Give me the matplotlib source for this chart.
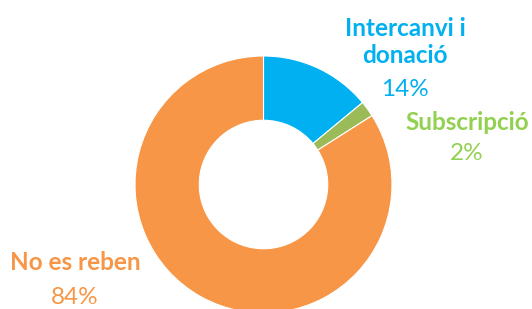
import matplotlib
matplotlib.use("Agg")
import matplotlib.pyplot as plt

categories = ["Intercanvi i\ndonació", "Subscripció", "No es reben"]
values = [14, 2, 84]
slice_colors = ["#00B0F0", "#9BBB59", "#F79646"]
label_colors = ["#00B0F0", "#92D050", "#F79646"]

W, H = 532, 309
fig = plt.figure(figsize=(W / 100, H / 100), dpi=100)
plt.rcParams['font.family'] = ['Lato', 'DejaVu Sans']

cx, cy, R = 263.5, 184.5, 128.5
ax = fig.add_axes([(cx - R) / W, (H - cy - R) / H, 2 * R / W, 2 * R / H])
ax.pie(values, colors=slice_colors, startangle=90, counterclock=False,
       radius=1.0, wedgeprops=dict(width=0.5, edgecolor="white", linewidth=0.8))
ax.set_xlim(-1, 1)
ax.set_ylim(-1, 1)
ax.set_aspect("auto")
ax.axis("off")
for w in ax.patches:
    w.set_clip_on(False)

# label positions (pixel coords, from top-left)
name_pos = [(405, 42), (467, 122), (75, 263)]
pct_pos = [(405, 90), (467, 153), (75, 297)]
fs = 17.5
for cat, v, col, (nx, ny), (px, py) in zip(categories, values, label_colors, name_pos, pct_pos):
    fig.text(nx / W, 1 - ny / H, cat, ha="center", va="center", fontsize=fs,
             fontweight="bold", color=col, linespacing=1.25)
    fig.text(px / W, 1 - py / H, f"{v}%", ha="center", va="center", fontsize=fs,
             color=col)

fig.savefig("out.png", dpi=100)
